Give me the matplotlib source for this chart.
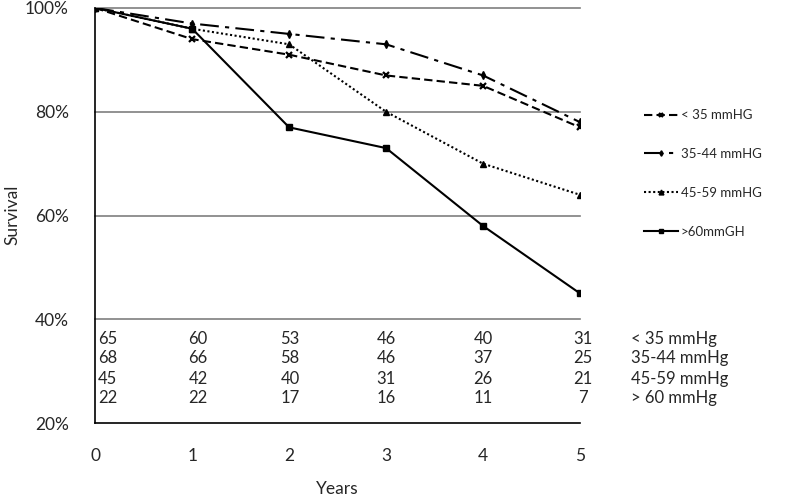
import matplotlib.pyplot as plt
import matplotlib.ticker as ticker

plt.rcParams['font.family'] = ['Lato', 'DejaVu Sans']

# Data
years = [0, 1, 2, 3, 4, 5]
surv_lt35 = [100, 94, 91, 87, 85, 77]
surv_35_44 = [100, 97, 95, 93, 87, 78]
surv_45_59 = [100, 96, 93, 80, 70, 64]
surv_gt60 = [100, 96, 77, 73, 58, 45]
legend_labels = ['< 35 mmHG', '35-44 mmHG', '45-59 mmHG', '>60mmGH']

# Numbers at risk table
risk_labels = ['< 35 mmHg', '35-44 mmHg', '45-59 mmHg', '> 60 mmHg']
risk_lt35 = [65, 60, 53, 46, 40, 31]
risk_35_44 = [68, 66, 58, 46, 37, 25]
risk_45_59 = [45, 42, 40, 31, 26, 21]
risk_gt60 = [22, 22, 17, 16, 11, 7]

text_col = '#262626'

fig = plt.figure(figsize=(8, 4.99), dpi=100)
ax = fig.add_axes([0.119, 0.152, 0.606, 0.832])

# Gridlines
for g in [40, 60, 80, 100]:
    ax.axhline(g, color='#7f7f7f', linewidth=1.2, zorder=1, clip_on=False)

l1, = ax.plot(years, surv_lt35, color='black', linestyle=(0, (4, 2)), linewidth=1.5,
              marker='x', markersize=5, markeredgewidth=1.6, zorder=3)
l2, = ax.plot(years, surv_35_44, color='black', linestyle=(0, (9, 3, 2, 3)), linewidth=1.5,
              marker='d', markersize=4, zorder=3)
l3, = ax.plot(years, surv_45_59, color='black', linestyle=(0, (1, 1.2)), linewidth=1.5,
              marker='^', markersize=5, zorder=3)
l4, = ax.plot(years, surv_gt60, color='black', linestyle='-', linewidth=1.5,
              marker='s', markersize=4.5, zorder=3)

ax.set_xlim(0, 5)
ax.set_ylim(20, 100)
ax.yaxis.set_major_locator(ticker.MultipleLocator(20))
ax.yaxis.set_major_formatter(ticker.FuncFormatter(lambda v, p: f'{v:.0f}%'))
ax.xaxis.set_major_locator(ticker.MultipleLocator(1))
ax.tick_params(axis='both', length=0, labelsize=12.5, colors=text_col)
ax.tick_params(axis='x', pad=18)
ax.tick_params(axis='y', pad=19)

for s in ['top', 'right']:
    ax.spines[s].set_visible(False)
ax.spines['left'].set_linewidth(1.2)
ax.spines['bottom'].set_linewidth(1.2)

fig.text(12 / 800, 1 - 215 / 499, 'Survival', rotation=90, ha='center', va='center',
         fontsize=12.5, color=text_col)
fig.text(337 / 800, 1 - 489 / 499, 'Years', ha='center', va='center',
         fontsize=12.5, color=text_col)

# Legend
leg = fig.legend([l1, l2, l3, l4], legend_labels, loc='upper left',
                 bbox_to_anchor=(0.79, 0.805), frameon=False, fontsize=9.5,
                 handlelength=2.6, handletextpad=0.2, labelspacing=2.03,
                 markerscale=0.7)
for t in leg.get_texts():
    t.set_color(text_col)

# Numbers at risk table
rows = [risk_lt35, risk_35_44, risk_45_59, risk_gt60]
row_y = [36.2, 32.5, 28.6, 24.8]
col_shift = [0.13, 0.06, 0.01, 0.0, 0.0, 0.03]
for r, (vals, lab) in enumerate(zip(rows, risk_labels)):
    for i, v in enumerate(vals):
        ax.text(years[i] + col_shift[i], row_y[r], str(v), ha='center', va='center',
                fontsize=12, color=text_col, clip_on=False)
    ax.text(5.53, row_y[r], lab, ha='left', va='center', fontsize=12,
            color=text_col, clip_on=False)

fig.savefig('out.png', dpi=100)
